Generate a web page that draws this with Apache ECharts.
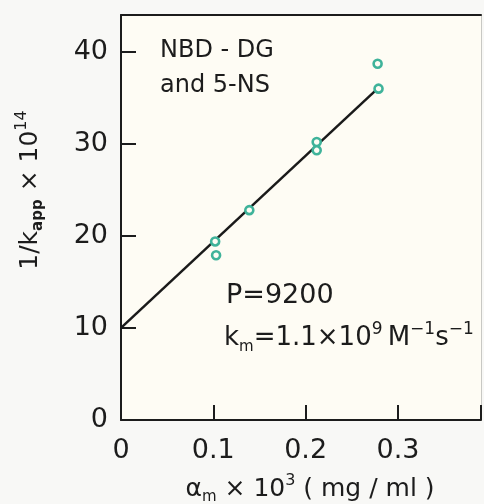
<!DOCTYPE html>
<html>
<head>
<meta charset="utf-8">
<script src="https://cdn.jsdelivr.net/npm/echarts@6/dist/echarts.min.js"></script>
<style>
html,body{margin:0;padding:0;background:#f8f8f6;}
#chart{width:484px;height:504px;}
</style>
</head>
<body>
<div id="chart"></div>
<script>
// ---- data ----
var alphaM = [0.102, 0.103, 0.139, 0.212, 0.212, 0.278, 0.279];
var invKapp = [19.4, 17.9, 22.8, 30.2, 29.3, 38.7, 36.0];
var fitX = [0, 0.28];
var fitY = [10, 36.2];
var xTicks = [0, 0.1, 0.2, 0.3];
var yTicks = [0, 10, 20, 30, 40];

var FONT = 'DejaVu Sans';
var INK = '#1c1c1c';
var chart = echarts.init(document.getElementById('chart'));

var points = alphaM.map(function (x, i) { return [x, invKapp[i]]; });
var line = fitX.map(function (x, i) { return [x, fitY[i]]; });

var option = {
  backgroundColor: '#f8f8f6',
  animation: false,
  grid: {
    left: 121, right: 3, top: 15, bottom: 84,
    show: true, backgroundColor: '#fefcf4', borderWidth: 0
  },
  xAxis: [{
    type: 'value', min: 0, max: 0.39, interval: 0.1,
    axisLine: { show: true, onZero: false, lineStyle: { color: INK, width: 2 } },
    axisTick: { show: true, inside: true, length: 15, lineStyle: { color: INK, width: 2 } },
    splitLine: { show: false },
    axisLabel: {
      margin: 17, color: INK, fontFamily: FONT, fontSize: 27,
      formatter: function (v) { return xTicks.indexOf(Math.round(v * 10) / 10) >= 0 ? (v === 0 ? '0' : v.toFixed(1)) : ''; }
    }
  }, {
    type: 'value', position: 'top', min: 0, max: 0.39,
    axisLine: { show: true, onZero: false, lineStyle: { color: INK, width: 2 } },
    axisTick: { show: false }, axisLabel: { show: false }, splitLine: { show: false }
  }],
  yAxis: [{
    type: 'value', min: 0, max: 44, interval: 10,
    axisLine: { show: true, onZero: false, lineStyle: { color: INK, width: 2 } },
    axisTick: { show: true, inside: true, length: 15, lineStyle: { color: INK, width: 2 } },
    splitLine: { show: false },
    axisLabel: {
      margin: 13, color: INK, fontFamily: FONT, fontSize: 27,
      formatter: function (v) { return yTicks.indexOf(v) >= 0 ? String(v) : ''; }
    }
  }, {
    type: 'value', position: 'right', min: 0, max: 44,
    axisLine: { show: true, onZero: false, lineStyle: { color: '#c8c8c4', width: 1 } },
    axisTick: { show: false }, axisLabel: { show: false }, splitLine: { show: false }
  }],
  series: [{
    type: 'line', data: line, showSymbol: false, symbol: 'none',
    lineStyle: { color: '#1a1a1a', width: 2.5 }, z: 2
  }, {
    type: 'scatter', data: points, symbol: 'circle', symbolSize: 8,
    itemStyle: { color: '#fefcf4', borderColor: '#3fb39a', borderWidth: 2.6, opacity: 1 }, z: 3
  }],
  graphic: [
    {
      type: 'text', left: 160, top: 33,
      style: { text: 'NBD - DG\nand 5-NS', fill: INK, font: '24px "DejaVu Sans"', lineHeight: 35 }
    },
    {
      type: 'text', left: 226, top: 282,
      style: { text: 'P=9200', fill: INK, font: '27px "DejaVu Sans"' }
    },
    {
      type: 'text', left: 224, top: 321,
      style: {
        text: '{a|k}{sub|m}{a|=1.1×10}{sup|9}{a|\u2009M}{sup|−1}{a|s}{sup|−1}',
        rich: {
          a: { fontFamily: FONT, fontSize: 26, fill: INK, lineHeight: 34, verticalAlign: 'middle' },
          sub: { fontFamily: FONT, fontSize: 15, fill: INK, lineHeight: 34, verticalAlign: 'bottom' },
          sup: { fontFamily: FONT, fontSize: 17, fill: INK, lineHeight: 34, verticalAlign: 'top' }
        }
      }
    },
    {
      type: 'text', x: 30, y: 190, rotation: Math.PI / 2,
      style: {
        text: '{a|1/k}{sub|app}{a| × 10}{sup|14}',
        align: 'center', verticalAlign: 'middle',
        rich: {
          a: { fontFamily: FONT, fontSize: 25, fill: INK, lineHeight: 32, verticalAlign: 'middle' },
          sub: { fontFamily: FONT, fontSize: 15, fontWeight: 'bold', fill: INK, lineHeight: 32, verticalAlign: 'bottom' },
          sup: { fontFamily: FONT, fontSize: 16, fill: INK, lineHeight: 32, verticalAlign: 'top' }
        }
      }
    },
    {
      type: 'text', x: 310, y: 489,
      style: {
        text: '{a|α}{sub|m}{a| × 10}{sup|3}{a| ( mg / ml )}',
        align: 'center', verticalAlign: 'middle',
        rich: {
          a: { fontFamily: FONT, fontSize: 25, fill: INK, lineHeight: 32, verticalAlign: 'middle' },
          sub: { fontFamily: FONT, fontSize: 15, fill: INK, lineHeight: 32, verticalAlign: 'bottom' },
          sup: { fontFamily: FONT, fontSize: 16, fill: INK, lineHeight: 32, verticalAlign: 'top' }
        }
      }
    }
  ]
};
chart.setOption(option);
</script>
</body>
</html>
